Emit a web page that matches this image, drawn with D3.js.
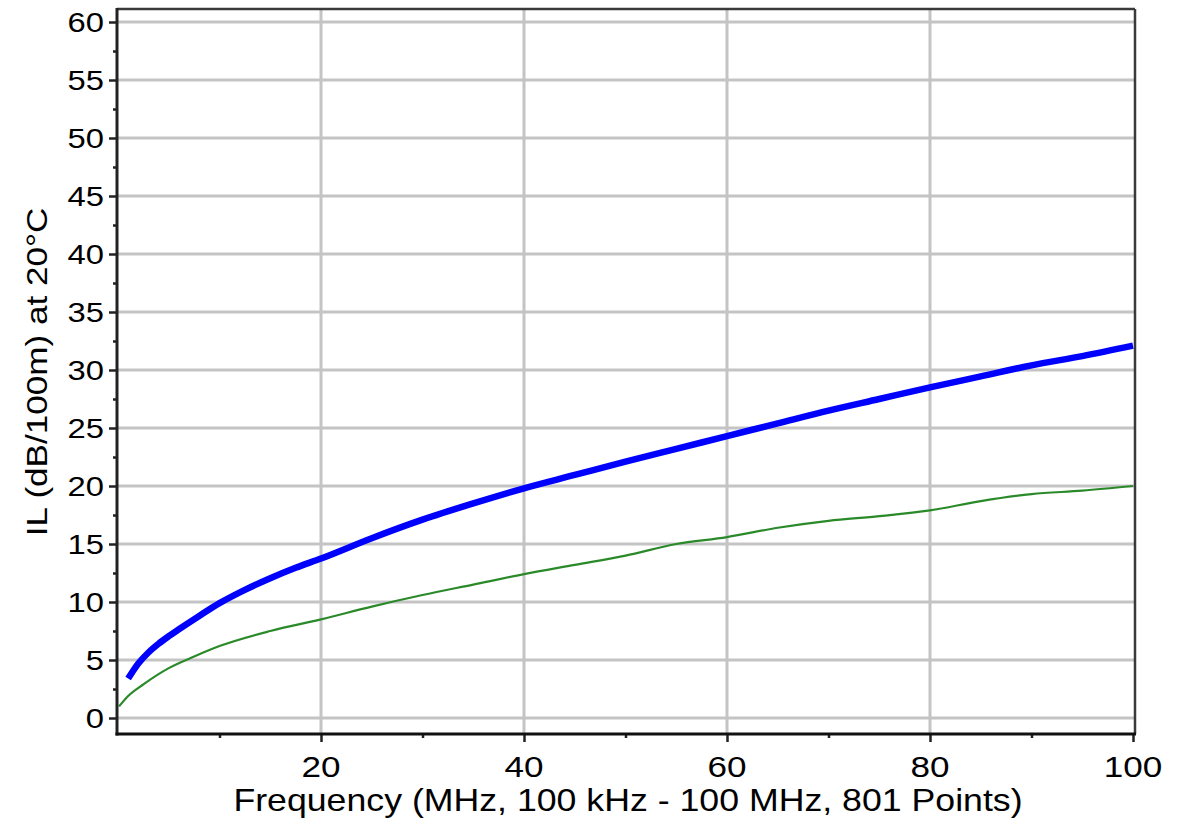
<!DOCTYPE html>
<html>
<head>
<meta charset="utf-8">
<script src="https://cdn.jsdelivr.net/npm/d3@7/dist/d3.min.js"></script>
<style>
html,body{margin:0;padding:0;background:#fff;}
svg{display:block;}
text{font-family:"Liberation Sans",Arial,sans-serif;fill:#000;}
</style>
</head>
<body>
<svg id="chart" width="1181" height="826"></svg>
<script>
// Data
const blueFreq = [1, 2, 3, 4, 5, 6, 8, 10, 12.5, 15, 17.5, 20, 25, 30, 35, 40, 45, 50, 55, 60, 65, 70, 75, 80, 85, 90, 95, 100];
const blueIL   = [3.4, 4.7, 5.65, 6.4, 7.05, 7.65, 8.8, 9.9, 11.05, 12.05, 12.95, 13.75, 15.5, 17.1, 18.5, 19.8, 20.95, 22.1, 23.2, 24.3, 25.4, 26.5, 27.5, 28.5, 29.45, 30.4, 31.2, 32.1];
const greenFreq = [0.1, 1, 2.5, 5, 7.5, 10, 15, 20, 25, 30, 35, 40, 45, 50, 55, 60, 65, 70, 75, 80, 85, 90, 95, 100];
const greenIL   = [1.0, 1.9, 2.9, 4.3, 5.3, 6.2, 7.5, 8.5, 9.6, 10.6, 11.5, 12.4, 13.2, 14.0, 15.0, 15.6, 16.4, 17.0, 17.4, 17.9, 18.7, 19.3, 19.6, 20.0];
const xTicks = [20, 40, 60, 80, 100];
const xMinorTicks = [10, 30, 50, 70, 90];
const yTicks = [0, 5, 10, 15, 20, 25, 30, 35, 40, 45, 50, 55, 60];
const yMinorTicks = [2.5, 7.5, 12.5, 17.5, 22.5, 27.5, 32.5, 37.5, 42.5, 47.5, 52.5, 57.5];
const xTitle = "Frequency (MHz, 100 kHz - 100 MHz, 801 Points)";
const yTitle = "IL (dB/100m) at 20°C";

const svg = d3.select("#chart");
const L = 117, R = 1135, T = 9, B = 734;
const SX = 1.17; // glyph widening seen in the reference

const x = d3.scaleLinear().domain([0, 100]).range([118, 1133]);
const y = d3.scaleLinear().domain([0, 60]).range([718, 22]);

// grid
const g = svg.append("g");
g.selectAll("line.gx").data(xTicks.filter(d => d < 100)).enter().append("line")
  .attr("x1", d => x(d)).attr("x2", d => x(d)).attr("y1", T).attr("y2", B)
  .attr("stroke", "#c4c4c4").attr("stroke-width", 3);
g.selectAll("line.gy").data(yTicks).enter().append("line")
  .attr("x1", L).attr("x2", R).attr("y1", d => y(d)).attr("y2", d => y(d))
  .attr("stroke", "#c4c4c4").attr("stroke-width", 3);

// curves
const line = d3.line().x(d => x(d[0])).y(d => y(d[1])).curve(d3.curveMonotoneX);
svg.append("path").datum(greenFreq.map((f, i) => [f, greenIL[i]]))
  .attr("d", line).attr("fill", "none").attr("stroke", "#2a8a2a").attr("stroke-width", 2.2);
svg.append("path").datum(blueFreq.map((f, i) => [f, blueIL[i]]))
  .attr("d", line).attr("fill", "none").attr("stroke", "#0000ff").attr("stroke-width", 6.5);

// frame
svg.append("line").attr("x1", L).attr("x2", R).attr("y1", T).attr("y2", T).attr("stroke", "#3a3a3a").attr("stroke-width", 2.5);
svg.append("line").attr("x1", R).attr("x2", R).attr("y1", T).attr("y2", B).attr("stroke", "#3a3a3a").attr("stroke-width", 2.5);

// axes (ticks only; labels drawn below with widened glyphs)
const yAxis = svg.append("g").attr("transform", `translate(${L},0)`)
  .call(d3.axisLeft(y).tickValues(yTicks).tickSize(8).tickFormat(""));
const yMinor = svg.append("g").attr("transform", `translate(${L},0)`)
  .call(d3.axisLeft(y).tickValues(yMinorTicks).tickSize(4).tickFormat(""));
const xAxis = svg.append("g").attr("transform", `translate(0,${B})`)
  .call(d3.axisBottom(x).tickValues(xTicks).tickSize(8).tickFormat(""));
const xMinor = svg.append("g").attr("transform", `translate(0,${B})`)
  .call(d3.axisBottom(x).tickValues(xMinorTicks).tickSize(4).tickFormat(""));
[yAxis, yMinor, xAxis, xMinor].forEach(a => {
  a.select(".domain").remove();
  a.selectAll(".tick line").attr("stroke", "#222").attr("stroke-width", 2.5);
});

// tick labels
svg.append("g").selectAll("text").data(yTicks).enter().append("text")
  .attr("transform", d => `translate(104,${y(d) + 10}) scale(${SX},1)`)
  .attr("text-anchor", "end").attr("font-size", 28).text(d => d);
svg.append("g").selectAll("text").data(xTicks).enter().append("text")
  .attr("transform", d => `translate(${x(d)},777) scale(${SX},1)`)
  .attr("text-anchor", "middle").attr("font-size", 30).text(d => d);

// axis lines
svg.append("line").attr("x1", L).attr("x2", L).attr("y1", T - 1).attr("y2", B + 1.5).attr("stroke", "#222").attr("stroke-width", 3);
svg.append("line").attr("x1", L - 1.5).attr("x2", R + 1).attr("y1", B).attr("y2", B).attr("stroke", "#111").attr("stroke-width", 3);

// titles
svg.append("text").attr("transform", `translate(628,811) scale(${SX},1)`).attr("text-anchor", "middle")
  .attr("font-size", 30.5).text(xTitle);
svg.append("text").attr("transform", `translate(47,372) rotate(-90) scale(${SX},1)`).attr("text-anchor", "middle")
  .attr("font-size", 30).text(yTitle);
</script>
</body>
</html>
